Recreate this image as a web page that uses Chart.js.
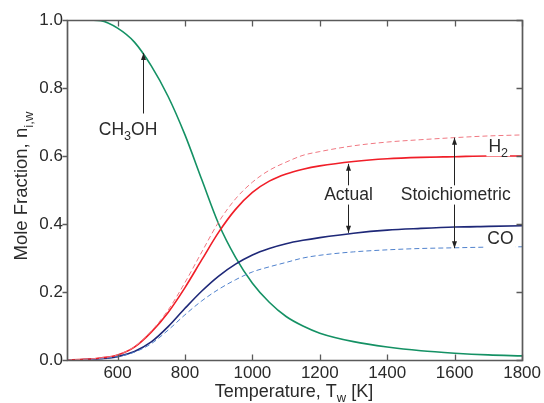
<!DOCTYPE html>
<html>
<head>
<meta charset="utf-8">
<script src="https://cdn.jsdelivr.net/npm/chart.js@4.4.0/dist/chart.umd.min.js"></script>
<style>
  html, body { margin: 0; padding: 0; background: #fff; }
  canvas { display: block; }
</style>
</head>
<body>
<canvas id="chart" width="544" height="403"></canvas>
<script>
// temperature grid [K]
const temps = [450, 500, 550, 600, 650, 700, 750, 800, 850, 900, 950, 1000, 1050, 1100, 1150, 1200, 1300, 1400, 1500, 1600, 1700, 1800]

// mole fractions
const ch3oh   = [1.0, 1.0, 0.998, 0.976, 0.935, 0.865, 0.775, 0.662, 0.53, 0.4, 0.302, 0.226, 0.17, 0.128, 0.1, 0.079, 0.054, 0.038, 0.027, 0.02, 0.015, 0.012]
const h2      = [0, 0.002, 0.006, 0.015, 0.038, 0.082, 0.14, 0.213, 0.295, 0.376, 0.443, 0.493, 0.526, 0.547, 0.561, 0.571, 0.584, 0.592, 0.596, 0.598, 0.6, 0.6]
const h2Stoic = [0, 0.002, 0.006, 0.015, 0.039, 0.085, 0.147, 0.228, 0.318, 0.406, 0.474, 0.523, 0.558, 0.582, 0.602, 0.613, 0.63, 0.641, 0.648, 0.654, 0.659, 0.662]
const co      = [0, 0.001, 0.004, 0.01, 0.025, 0.053, 0.098, 0.152, 0.203, 0.247, 0.282, 0.309, 0.328, 0.342, 0.352, 0.36, 0.373, 0.382, 0.387, 0.391, 0.393, 0.395]
const coStoic = [0, 0.001, 0.004, 0.01, 0.023, 0.048, 0.088, 0.133, 0.174, 0.208, 0.236, 0.259, 0.274, 0.287, 0.3, 0.308, 0.318, 0.324, 0.328, 0.33, 0.332, 0.333]

const xTicks = [600, 800, 1000, 1200, 1400, 1600, 1800]
const yTicks = [0, 0.2, 0.4, 0.6, 0.8, 1.0]

const FONT = '"Liberation Sans", Arial, Helvetica, sans-serif'
const TEXT = '#2a2a2a'
const FRAME = '#5a5a5a'

const pts = arr => arr.map((v, i) => ({ x: temps[i], y: v }))

function series(label, arr, color, dashed){
  return {
    label: label,
    data: pts(arr),
    borderColor: color,
    borderWidth: dashed ? 1 : 1.6,
    borderDash: dashed ? [5, 3] : [],
    pointRadius: 0,
    fill: false,
    cubicInterpolationMode: 'monotone',
  }
}

// text with optional subscript parts
function richWidth(ctx, parts, size){
  let w = 0
  parts.forEach(p => {
    ctx.font = (p.sub ? size * 0.72 : size) + 'px ' + FONT
    w += ctx.measureText(p.t).width
  })
  return w
}
function drawRich(ctx, parts, x, y, size){
  ctx.textAlign = 'left'
  ctx.textBaseline = 'alphabetic'
  parts.forEach(p => {
    ctx.font = (p.sub ? size * 0.72 : size) + 'px ' + FONT
    ctx.fillText(p.t, x, p.sub ? y + size * 0.3 : y)
    x += ctx.measureText(p.t).width
  })
}

function arrowHead(ctx, x, y, dir){
  ctx.beginPath()
  ctx.moveTo(x, y)
  ctx.lineTo(x - 2.5, y - dir * 7)
  ctx.lineTo(x + 2.5, y - dir * 7)
  ctx.closePath()
  ctx.fill()
}

// vertical arrow in data coords
function vArrow(ctx, xs, ys, t, y0, y1, heads){
  const x = Math.round(xs.getPixelForValue(t)) + 0.5
  const p0 = ys.getPixelForValue(y0)
  const p1 = ys.getPixelForValue(y1)
  ctx.beginPath()
  ctx.moveTo(x, p0)
  ctx.lineTo(x, p1)
  ctx.stroke()
  arrowHead(ctx, x, Math.min(p0, p1), -1)
  if (heads === 'both') arrowHead(ctx, x, Math.max(p0, p1), 1)
}

function note(ctx, xs, ys, parts, t, v, size, align){
  const w = richWidth(ctx, parts, size)
  let x = xs.getPixelForValue(t)
  const y = ys.getPixelForValue(v)
  if (align === 'center') x -= w / 2
  ctx.fillStyle = '#fff'
  ctx.fillRect(x - 2, y - size * 0.85, w + 4, size * 1.1)
  ctx.fillStyle = TEXT
  drawRich(ctx, parts, x, y, size)
}

const decorations = {
  id: 'decorations',
  afterDraw(chart){
    const ctx = chart.ctx
    const xs = chart.scales.x
    const ys = chart.scales.y
    ctx.save()
    ctx.setLineDash([])

    // box round the plot, drawn through the scales
    const L = Math.round(xs.getPixelForValue(450)) + 0.5, R = Math.round(xs.getPixelForValue(1800)) + 0.5
    const T = Math.round(ys.getPixelForValue(1)) + 0.5, B = Math.round(ys.getPixelForValue(0)) + 0.5
    ctx.strokeStyle = FRAME
    ctx.lineWidth = 1.7
    ctx.beginPath()
    ctx.rect(L, T, R - L, B - T)
    ctx.stroke()

    // tick marks
    ctx.lineWidth = 1.3
    ctx.beginPath()
    xTicks.forEach(t => {
      const x = Math.round(xs.getPixelForValue(t)) + 0.5
      ctx.moveTo(x, B); ctx.lineTo(x, B - 6)
      ctx.moveTo(x, T); ctx.lineTo(x, T + 6)
    })
    yTicks.forEach(t => {
      const y = Math.round(ys.getPixelForValue(t)) + 0.5
      ctx.moveTo(L, y); ctx.lineTo(L - 5, y)
      ctx.moveTo(R, y); ctx.lineTo(R - 6, y)
    })
    ctx.stroke()

    // axis titles
    ctx.fillStyle = TEXT
    const xt = [{ t: 'Temperature, T' }, { t: 'w', sub: true }, { t: ' [K]' }]
    const xw = richWidth(ctx, xt, 18)
    drawRich(ctx, xt, 294 - xw / 2, 397, 18)

    const yt = [{ t: 'Mole Fraction, n' }, { t: 'i,w', sub: true }]
    const yw = richWidth(ctx, yt, 18.5)
    ctx.save()
    ctx.translate(27, 186)
    ctx.rotate(-Math.PI / 2)
    drawRich(ctx, yt, -yw / 2, 0, 18.5)
    ctx.restore()

    // annotations
    ctx.strokeStyle = '#222'
    ctx.fillStyle = '#222'
    ctx.lineWidth = 1
    vArrow(ctx, xs, ys, 676, 0.725, 0.903, 'up')
    vArrow(ctx, xs, ys, 1285, 0.374, 0.577, 'both')
    vArrow(ctx, xs, ys, 1597, 0.329, 0.654, 'both')

    note(ctx, xs, ys, [{ t: 'CH' }, { t: '3', sub: true }, { t: 'OH' }], 631, 0.662, 17.5, 'center')
    note(ctx, xs, ys, [{ t: 'Actual' }], 1285, 0.47, 17.5, 'center')
    note(ctx, xs, ys, [{ t: 'Stoichiometric' }], 1603, 0.47, 17.5, 'center')
    note(ctx, xs, ys, [{ t: 'H' }, { t: '2', sub: true }], 1700, 0.612, 17.5, 'left')
    note(ctx, xs, ys, [{ t: 'CO' }], 1697, 0.34, 17.5, 'left')

    ctx.restore()
  }
}

new Chart(document.getElementById('chart'), {
  type: 'line',
  data: {
    datasets: [
      series('H2 stoichiometric', h2Stoic, 'rgb(240,120,130)', true),
      series('CO stoichiometric', coStoic, 'rgb(80,130,205)', true),
      series('H2', h2, 'rgb(240,30,40)', false),
      series('CO', co, 'rgb(30,40,120)', false),
      series('CH3OH', ch3oh, 'rgb(20,145,100)', false),
    ],
  },
  options: {
    responsive: false,
    animation: false,
    layout: { padding: { left: 0, top: 20, right: 21, bottom: 0 } },
    plugins: { legend: { display: false }, tooltip: { enabled: false } },
    scales: {
      x: {
        type: 'linear',
        min: 450,
        max: 1800,
        afterBuildTicks: scale => { scale.ticks = xTicks.map(v => ({ value: v })) },
        afterFit: scale => { scale.height = 43 },
        grid: { display: false, drawTicks: false },
        border: { display: false },
        ticks: { color: TEXT, font: { family: FONT, size: 17 }, padding: 3, maxRotation: 0, autoSkip: false, callback: v => String(v) },
      },
      y: {
        min: 0,
        max: 1,
        afterBuildTicks: scale => { scale.ticks = yTicks.map(v => ({ value: v })) },
        afterFit: scale => { scale.width = 67 },
        grid: { display: false, drawTicks: false },
        border: { display: false },
        ticks: { color: TEXT, font: { family: FONT, size: 17 }, padding: 4, callback: v => v.toFixed(1) },
      },
    },
  },
  plugins: [decorations],
})
</script>
</body>
</html>
